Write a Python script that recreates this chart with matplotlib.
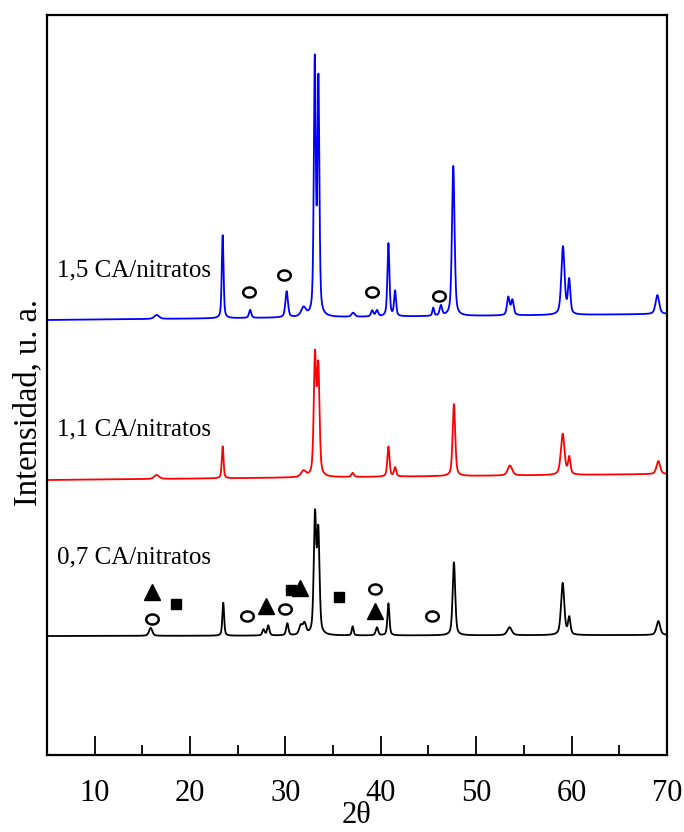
import numpy as np
import matplotlib
matplotlib.use("Agg")
import matplotlib.pyplot as plt
from matplotlib.path import Path

plt.rcParams['font.family'] = ['Liberation Serif', 'DejaVu Serif']

# Diffraction angle grid
two_theta = np.linspace(5, 70, 6501)

# Peak tables: position (2θ), height (a.u.), FWHM (deg)
blue_pos = [16.5, 23.42, 26.3, 30.13, 31.9, 33.08, 33.46, 37.1, 39.1, 39.6, 40.8, 41.5,
            45.5, 46.3, 47.6, 53.37, 53.8, 59.1, 59.75, 69.0]
blue_hgt = [4, 83, 8, 26, 9, 252, 232, 4, 6, 6, 73, 25, 8, 10, 150, 18, 15, 68, 34, 19]
blue_wid = [0.6, 0.22, 0.28, 0.32, 0.6, 0.24, 0.24, 0.4, 0.3, 0.3, 0.25, 0.25,
            0.22, 0.3, 0.32, 0.32, 0.32, 0.4, 0.3, 0.45]

red_pos = [16.5, 23.42, 31.9, 33.1, 33.45, 37.05, 40.8, 41.5, 47.67, 53.54, 59.07, 59.76, 69.1]
red_hgt = [4, 32, 6, 118, 106, 4, 30, 9, 72, 10, 41, 17, 13]
red_wid = [0.6, 0.22, 0.6, 0.3, 0.3, 0.3, 0.27, 0.27, 0.32, 0.55, 0.45, 0.3, 0.45]

black_pos = [15.87, 23.48, 27.7, 28.2, 30.2, 31.6, 32.0, 33.1, 33.45, 37.05, 39.6, 40.8,
             47.67, 53.5, 59.07, 59.76, 69.1]
black_hgt = [8, 33, 6, 10, 12, 9, 11, 117, 100, 9, 8, 32, 73, 8, 52, 17, 14]
black_wid = [0.4, 0.22, 0.28, 0.28, 0.28, 0.4, 0.4, 0.3, 0.3, 0.22, 0.3, 0.25,
             0.32, 0.55, 0.4, 0.3, 0.45]

# Baseline levels (left end, right end) giving the vertical stacking
blue_base = (435, 441)
red_base = (275, 281)
black_base = (119, 120)

# Phase markers on the diffractograms: (2θ, height)
circle_x = [15.97, 26.0, 29.95, 39.4, 45.33, 26.18, 29.88, 39.04, 46.1]
circle_y = [136, 139.3, 145.7, 165.7, 139, 462.7, 480, 462.7, 459.3]
triangle_x = [15.97, 27.96, 31.5, 39.4]
triangle_y = [163.3, 149, 166.7, 144.3]
square_x = [18.52, 30.55, 35.64]
square_y = [151, 165, 158.3]

labels = ['1,5 CA/nitratos', '1,1 CA/nitratos', '0,7 CA/nitratos']
label_y = [484.5, 326, 198]


def pattern(pos, hgt, wid, base):
    y = np.linspace(base[0], base[1], two_theta.size)
    for p, h, w in zip(pos, hgt, wid):
        g = np.exp(-4 * np.log(2) * ((two_theta - p) / w) ** 2)
        l = 1.0 / (1.0 + 4 * ((two_theta - p) / w) ** 2)
        y = y + h * (0.5 * g + 0.5 * l)
    return y


fig = plt.figure(figsize=(6.84, 8.32), dpi=100)
ax = fig.add_axes([0.0687, 0.0925, 0.9063, 0.8895])

ax.plot(two_theta, pattern(blue_pos, blue_hgt, blue_wid, blue_base), color='#0000ff', lw=1.3)
ax.plot(two_theta, pattern(red_pos, red_hgt, red_wid, red_base), color='#ff0000', lw=1.3)
ax.plot(two_theta, pattern(black_pos, black_hgt, black_wid, black_base), color='black', lw=1.3)

circ = np.linspace(0, 2 * np.pi, 60)
ellipse = Path(np.column_stack([1.25 * np.cos(circ), np.sin(circ)]), closed=True)
ax.plot(circle_x, circle_y, ls='none', marker=ellipse, ms=9, mfc='none', mec='black', mew=1.8)
ax.plot(triangle_x, triangle_y, ls='none', marker='^', ms=11, color='black')
ax.plot(square_x, square_y, ls='none', marker='s', ms=7, color='black')

for txt, yy in zip(labels, label_y):
    ax.text(6.05, yy, txt, fontsize=18, va='center', ha='left')

ax.set_xlim(5, 70)
ax.set_ylim(0, 740)
ax.set_xticks(np.arange(10, 71, 10))
ax.set_xticks(np.arange(15, 70, 10), minor=True)
ax.set_yticks([])
ax.tick_params(axis='x', which='major', direction='in', length=14, width=1.3,
               labelsize=22, pad=17)
ax.tick_params(axis='x', which='minor', direction='in', length=7, width=1.3)
for s in ax.spines.values():
    s.set_linewidth(1.6)
ax.set_xlabel('2θ', fontsize=22, labelpad=-5)
ax.set_ylabel('Intensidad, u. a.', fontsize=23.5)
ax.yaxis.set_label_coords(-0.006, 0.477)

fig.savefig('out.png', dpi=100)
